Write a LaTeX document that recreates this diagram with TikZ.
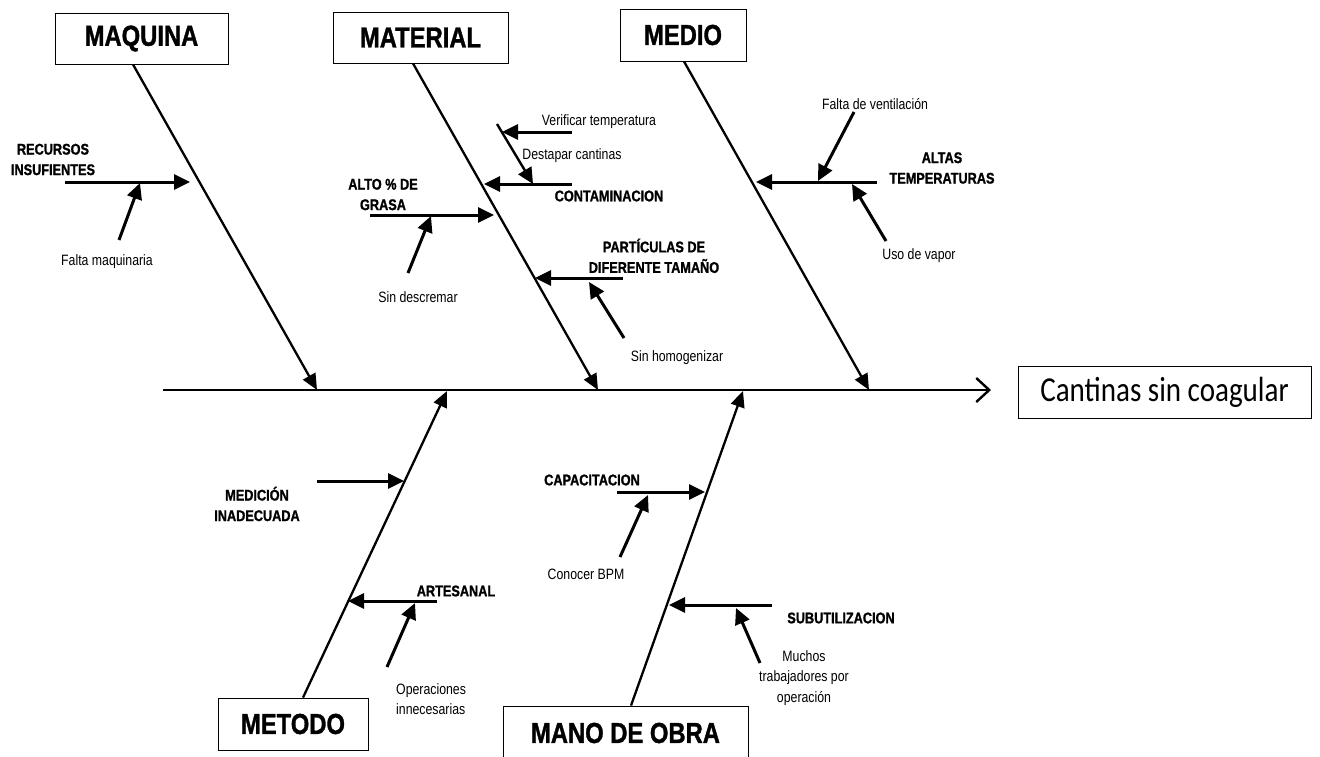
\documentclass[tikz,border=0pt]{standalone}
\usepackage{fontspec}
\usetikzlibrary{arrows.meta}
\newfontfamily\arn[FakeStretch=0.82, BoldFeatures={FakeBold=1.2}]{Liberation Sans}
\newfontfamily\calib[FakeStretch=0.83]{Carlito}

\begin{document}
\begin{tikzpicture}[x=1pt,y=-1pt,
  catbox/.style={draw, line width=0.9pt, inner sep=0pt, font=\arn\bfseries\fontsize{29}{34}\selectfont},
  cause/.style={font=\arn\bfseries\fontsize{15.5}{20.5}\selectfont, align=center, inner sep=0pt},
  subcause/.style={font=\arn\fontsize{15}{20.5}\selectfont, align=center, inner sep=0pt},
  bone/.style={line width=2.3pt, -{Triangle[length=16pt,width=14pt]}},
  twig/.style={line width=3pt, -{Triangle[length=16pt,width=15pt]}},
  spine/.style={line width=2.4pt, -{Straight Barb[length=13pt,width=24pt]}}
]
\useasboundingbox (0,0) rectangle (1320,756);
\clip (0,0) rectangle (1320,756);

% category boxes
\node[catbox, minimum width=173, minimum height=51] (mq) at (141.5,38.5) {MAQUINA};
\node[catbox, minimum width=175, minimum height=51] (mt) at (420.5,37.5) {MATERIAL};
\node[catbox, minimum width=126, minimum height=52] (md) at (683,35) {MEDIO};
\node[catbox, minimum width=150, minimum height=52] (mo) at (293,724) {METODO};
\node[catbox, minimum width=245, minimum height=54] (mb) at (625.5,733) {MANO DE OBRA};

% effect
\node[draw, line width=0.9pt, minimum width=293, minimum height=52, inner sep=0pt,
      font=\calib\fontsize{35}{40}\selectfont] (ef) at (1164.5,392.5) {Cantinas sin coagular};

% spine
\coordinate (spL) at (163,390);
\coordinate (spR) at (991,390);
\draw[spine] (spL) -- (spR);

% bone tips on the spine
\coordinate (mqT) at (317,390);
\coordinate (mtT) at (598,390);
\coordinate (mdT) at (869,390);
\coordinate (moT) at (447,391);
\coordinate (mbT) at (743,391);

\draw[bone] ([xshift=-8.5pt]mq.south) -- (mqT);
\draw[bone] ([xshift=-7.5pt]mt.south) -- (mtT);
\draw[bone] ([xshift=1pt]md.south) -- (mdT);
\draw[bone] ([xshift=10pt]mo.north) -- (moT);
\draw[bone] ([xshift=5.5pt]mb.north) -- (mbT);

% ---- MAQUINA
\coordinate (a1) at (65,182);   \coordinate (a1t) at (190,182);
\coordinate (a2) at (119,240);  \coordinate (a2t) at (140,183);
\draw[twig] (a1) -- (a1t);
\draw[twig] (a2) -- (a2t);
\node[cause] (recursos) at (53,159.5) {RECURSOS\\INSUFIENTES};
\node[subcause] (faltamaq) at (107,262) {Falta maquinaria};

% ---- MATERIAL
\coordinate (b1) at (370,215);  \coordinate (b1t) at (494,215);
\coordinate (b2) at (408,273);  \coordinate (b2t) at (431,216);
\coordinate (b3) at (572,184);  \coordinate (b3t) at (484,184);
\coordinate (b4) at (572,132);  \coordinate (b4t) at (502,132);
\coordinate (b5) at (497,124);  \coordinate (b5t) at (533,184);
\coordinate (b6) at (623,278);  \coordinate (b6t) at (535,278);
\coordinate (b7) at (624,338);  \coordinate (b7t) at (589,282);
\draw[twig] (b1) -- (b1t);
\draw[twig] (b2) -- (b2t);
\draw[twig] (b3) -- (b3t);
\draw[twig] (b4) -- (b4t);
\draw[bone, line width=2.4pt, -{Triangle[length=16pt,width=15pt]}] (b5) -- (b5t);
\draw[twig] (b6) -- (b6t);
\draw[twig] (b7) -- (b7t);
\node[cause] (alto) at (383,194.5) {ALTO \% DE\\GRASA};
\node[subcause] (sindesc) at (418,297) {Sin descremar};
\node[cause] (contam) at (609,196) {CONTAMINACION};
\node[subcause] (verif) at (599,122) {Verificar temperatura};
\node[subcause] (destapar) at (572,156) {Destapar cantinas};
\node[cause] (particulas) at (654,255.8) {PARTÍCULAS DE\\DIFERENTE TAMAÑO};
\node[subcause] (sinhomog) at (677,358) {Sin homogenizar};

% ---- MEDIO
\coordinate (c1) at (877,182);  \coordinate (c1t) at (756,182);
\coordinate (c2) at (854,112);  \coordinate (c2t) at (818,181);
\coordinate (c3) at (886,241);  \coordinate (c3t) at (852,184);
\draw[twig] (c1) -- (c1t);
\draw[twig] (c2) -- (c2t);
\draw[twig] (c3) -- (c3t);
\node[cause] (altas) at (942,168) {ALTAS\\TEMPERATURAS};
\node[subcause] (ventil) at (875,104) {Falta de ventilación};
\node[subcause] (vapor) at (919,256) {Uso de vapor};

% ---- METODO
\coordinate (d1) at (317,481);  \coordinate (d1t) at (404,481);
\coordinate (d2) at (437,601);  \coordinate (d2t) at (348,601);
\coordinate (d3) at (387,667);  \coordinate (d3t) at (415,603);
\draw[twig] (d1) -- (d1t);
\draw[twig] (d2) -- (d2t);
\draw[twig] (d3) -- (d3t);
\node[cause] (medicion) at (257,504) {MEDICIÓN\\INADECUADA};
\node[cause] (artesanal) at (456,591) {ARTESANAL};
\node[subcause, align=left, anchor=west] (operac) at (396,699) {Operaciones\\innecesarias};

% ---- MANO DE OBRA
\coordinate (e1) at (617,492);  \coordinate (e1t) at (705,492);
\coordinate (e2) at (620,557);  \coordinate (e2t) at (648,495);
\coordinate (e3) at (772,605);  \coordinate (e3t) at (669,605);
\coordinate (e4) at (760,663);  \coordinate (e4t) at (736,608);
\draw[twig] (e1) -- (e1t);
\draw[twig] (e2) -- (e2t);
\draw[twig] (e3) -- (e3t);
\draw[twig] (e4) -- (e4t);
\node[cause] (capac) at (592,480) {CAPACITACION};
\node[subcause] (conocer) at (586,574) {Conocer BPM};
\node[cause] (subutil) at (841,618) {SUBUTILIZACION};
\node[subcause] (muchos) at (804,678) {Muchos\\trabajadores por\\operación};

\end{tikzpicture}
\end{document}
